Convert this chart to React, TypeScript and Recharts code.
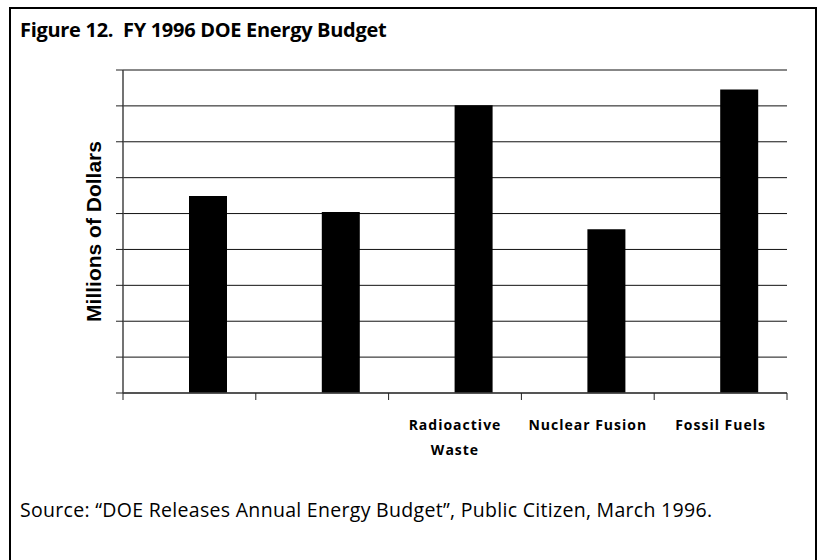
import React from 'react';
import {
  BarChart,
  Bar,
  XAxis,
  YAxis,
  CartesianGrid,
} from 'recharts';

// FY 1996 DOE energy budget by program (millions of dollars)
const programs = ['', ' ', 'Radioactive Waste', 'Nuclear Fusion', 'Fossil Fuels'];
const budget = [549, 504, 802, 456, 846];
const yTicks = [0, 100, 200, 300, 400, 500, 600, 700, 800, 900];

const data = programs.map((name, i) => ({ name, blank: null, budget: budget[i] }));

const W = 822;
const H = 560;
const M = { top: 70, right: 35, bottom: 67, left: 0 };
const Y_AXIS_W = 123;
const X_AXIS_H = 100;

const labelFont = '"Open Sans", sans-serif';

// Value axis carries tick marks only, no numbers
const NoTickLabel = () => <g />;

// Category tick: boundary tick marks between categories plus a wrapped label
const CategoryTick = (props: any) => {
  const { x, y, payload, index, visibleTicksCount } = props;
  const half = payload && payload.offset ? payload.offset : (W - M.left - M.right - Y_AXIS_W) / programs.length / 2;
  const value = String(payload.value).trim();
  let lines: string[] = [];
  if (value === 'Radioactive Waste') lines = ['Radioactive', 'Waste'];
  else if (value) lines = [value];
  const last = index === (visibleTicksCount ?? programs.length) - 1;
  return (
    <g>
      <line x1={x - half} x2={x - half} y1={y} y2={y + 7} stroke="#222" strokeWidth={1} />
      {last && <line x1={x + half} x2={x + half} y1={y} y2={y + 7} stroke="#222" strokeWidth={1} />}
      {lines.map((ln, i) => (
        <text
          key={i}
          x={x}
          y={y + 37 + i * 25}
          textAnchor="middle"
          fontFamily={labelFont}
          fontWeight={700}
          fontSize={14}
          letterSpacing={1}
          fill="#000"
        >
          {ln}
        </text>
      ))}
    </g>
  );
};

const YLabel = (props: any) => {
  const vb = props.viewBox || {};
  const cy = (vb.y ?? M.top) + (vb.height ?? 0) / 2;
  const cx = 93;
  return (
    <text
      x={cx}
      y={cy}
      transform={`rotate(-90, ${cx}, ${cy})`}
      textAnchor="middle"
      dominantBaseline="central"
      fontFamily='"Liberation Sans", Arial, sans-serif'
      fontWeight={700}
      fontSize={21}
      fill="#000"
    >
      Millions of Dollars
    </text>
  );
};

export default function App() {
  return (
    <div
      style={{
        position: 'absolute',
        left: 0,
        top: 0,
        width: W,
        height: H,
        background: '#fff',
        overflow: 'hidden',
      }}
    >
      <div
        style={{
          position: 'absolute',
          left: 9,
          top: 7,
          width: 804,
          height: 600,
          border: '2px solid #000',
        }}
      />
      <div
        style={{
          position: 'absolute',
          left: 20,
          top: 16,
          fontFamily: labelFont,
          fontWeight: 700,
          fontSize: 20,
          letterSpacing: -0.3,
          color: '#000',
          whiteSpace: 'pre',
        }}
      >
        {'Figure 12.  FY 1996 DOE Energy Budget'}
      </div>
      <div style={{ position: 'absolute', left: 0, top: 0 }}>
        <BarChart
          width={W}
          height={H}
          data={data}
          margin={M}
          barGap={0}
          barSize={38}
        >
          <CartesianGrid horizontal vertical={false} stroke="#111" strokeWidth={1} />
          <XAxis
            dataKey="name"
            height={X_AXIS_H}
            axisLine={{ stroke: '#444', strokeWidth: 1.5 }}
            tickLine={false}
            tickSize={0}
            tickMargin={0}
            interval={0}
            tick={<CategoryTick />}
          />
          <XAxis
            xAxisId="top"
            dataKey="name"
            orientation="top"
            height={0}
            tick={false}
            tickLine={false}
            axisLine={{ stroke: '#c4c4c4', strokeWidth: 1.5 }}
          />
          <YAxis
            width={Y_AXIS_W}
            domain={[0, 900]}
            ticks={yTicks}
            interval={0}
            tick={<NoTickLabel />}
            tickSize={7}
            tickLine={{ stroke: '#222' }}
            axisLine={{ stroke: '#444', strokeWidth: 1.5 }}
            label={<YLabel />}
          />
          <YAxis
            yAxisId="right"
            orientation="right"
            width={0}
            domain={[0, 900]}
            ticks={yTicks}
            tick={false}
            tickLine={false}
            axisLine={{ stroke: '#c4c4c4', strokeWidth: 1.5 }}
          />
          <Bar dataKey="blank" fill="#000" isAnimationActive={false} />
          <Bar dataKey="budget" fill="#000" isAnimationActive={false} />
        </BarChart>
      </div>
      <div
        style={{
          position: 'absolute',
          left: 20,
          top: 496,
          fontFamily: labelFont,
          fontWeight: 400,
          fontSize: 19.5,
          letterSpacing: 0.3,
          color: '#000',
          whiteSpace: 'pre',
        }}
      >
        {'Source: \u201cDOE Releases Annual Energy Budget\u201d, Public Citizen, March 1996.'}
      </div>
    </div>
  );
}
